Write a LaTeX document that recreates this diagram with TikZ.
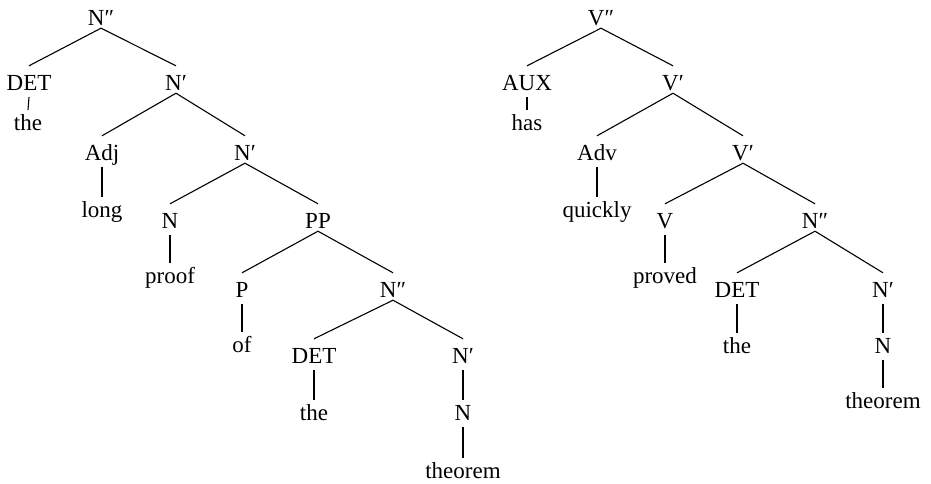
\documentclass[tikz,border=0pt]{standalone}
\usepackage{fontspec}
\setmainfont{Liberation Serif}
\begin{document}
\begin{tikzpicture}[x=1pt,y=1pt,
  lbl/.style={anchor=base,inner xsep=0pt,inner ysep=3pt,text height=15pt,text depth=0pt,font=\fontsize{23}{27}\selectfont},
  br/.style={line width=1.1pt}]
\useasboundingbox (0,0) rectangle (931,-483);
% left tree
\node[lbl] (a1) at (101,-25) {N″};
\node[lbl] (a2) at (29,-90) {DET};
\node[lbl] (a3) at (28,-130) {the};
\node[lbl] (a4) at (176,-90) {N′};
\node[lbl] (a5) at (102,-160) {Adj};
\node[lbl] (a6) at (102,-217) {long};
\node[lbl] (a7) at (245,-160) {N′};
\node[lbl] (a8) at (170,-228) {N};
\node[lbl] (a9) at (170,-283) {proof};
\node[lbl] (a10) at (318,-228) {PP};
\node[lbl] (a11) at (242,-297) {P};
\node[lbl] (a12) at (242,-352) {of};
\node[lbl] (a13) at (393,-297) {N″};
\node[lbl] (a14) at (314,-363) {DET};
\node[lbl] (a15) at (314,-420) {the};
\node[lbl] (a16) at (463,-363) {N′};
\node[lbl] (a17) at (463,-420) {N};
\node[lbl] (a18) at (463,-478) {theorem};
% right tree
\node[lbl] (b1) at (601,-25) {V″};
\node[lbl] (b2) at (527,-90) {AUX};
\node[lbl] (b3) at (527,-130) {has};
\node[lbl] (b4) at (673,-90) {V′};
\node[lbl] (b5) at (597,-160) {Adv};
\node[lbl] (b6) at (597,-217) {quickly};
\node[lbl] (b7) at (743,-160) {V′};
\node[lbl] (b8) at (665,-228) {V};
\node[lbl] (b9) at (665,-283) {proved};
\node[lbl] (b10) at (815,-228) {N″};
\node[lbl] (b11) at (737,-297) {DET};
\node[lbl] (b12) at (737,-353) {the};
\node[lbl] (b13) at (883,-297) {N′};
\node[lbl] (b14) at (883,-353) {N};
\node[lbl] (b15) at (883,-408) {theorem};
% binary branches
\foreach \p/\c in {a1/a2,a1/a4,a4/a5,a4/a7,a7/a8,a7/a10,a10/a11,a10/a13,a13/a14,a13/a16,
                   b1/b2,b1/b4,b4/b5,b4/b7,b7/b8,b7/b10,b10/b11,b10/b13}
  \draw[br] (\p.south) -- ([yshift=6pt]\c.north);
% unary branches
\foreach \p/\c in {a2/a3,a5/a6,a8/a9,a11/a12,a14/a15,a16/a17,a17/a18,
                   b2/b3,b5/b6,b8/b9,b11/b12,b13/b14,b14/b15}
  \draw[br] ([yshift=-4pt]\p.south) -- ([yshift=2pt]\c.north);
\end{tikzpicture}
\end{document}
